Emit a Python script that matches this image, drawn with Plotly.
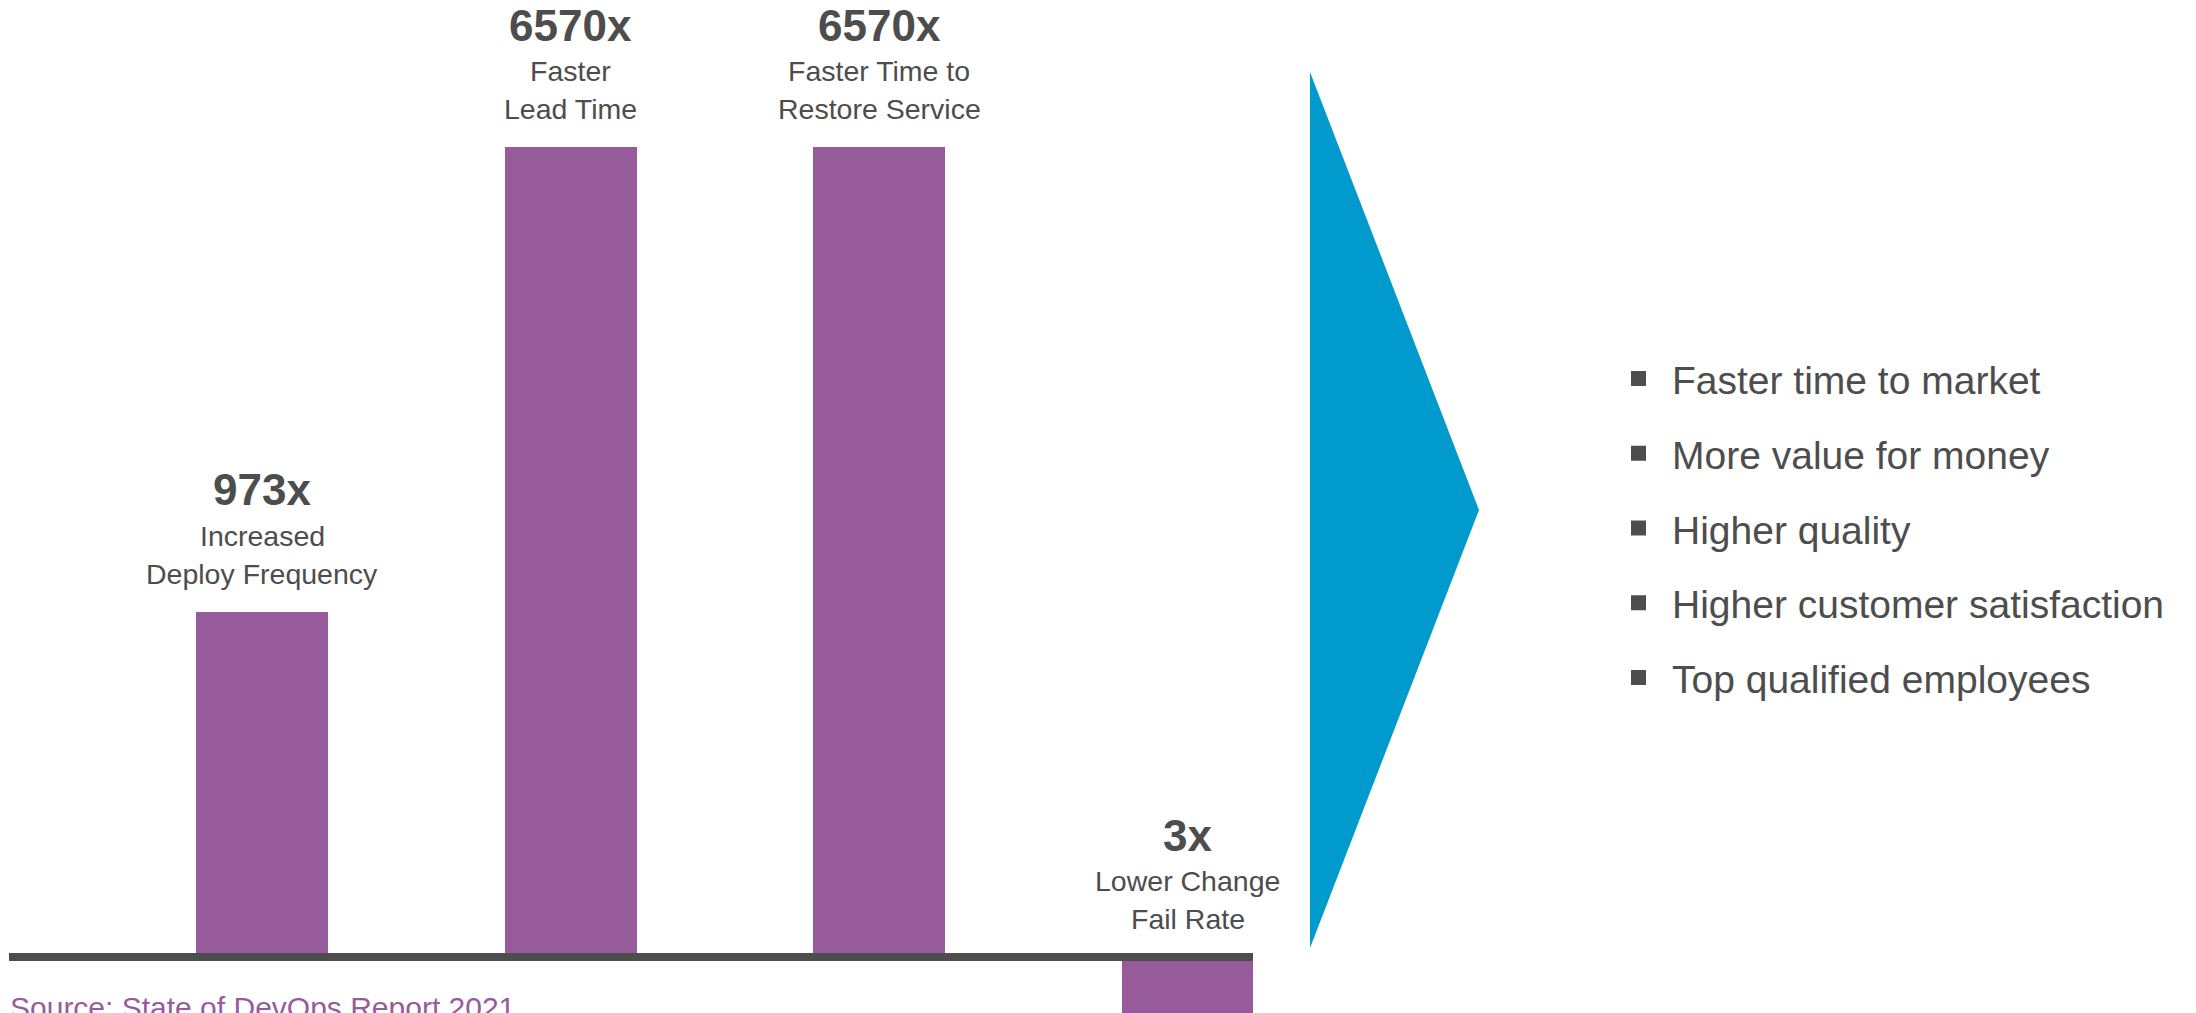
import plotly.graph_objects as go

# ---------------- data ----------------
categories = ["Deploy Frequency", "Lead Time", "Time to Restore Service", "Change Fail Rate"]
bar_heights = [42.6, 100, 100, -12]          # drawn heights (tallest bar = 100)
value_labels = ["973x", "6570x", "6570x", "3x"]
desc_line1 = ["Increased", "Faster", "Faster Time to", "Lower Change"]
desc_line2 = ["Deploy Frequency", "Lead Time", "Restore Service", "Fail Rate"]
benefits = [
    "Faster time to market",
    "More value for money",
    "Higher quality",
    "Higher customer satisfaction",
    "Top qualified employees",
]
source_text = "Source: State of DevOps Report 2021"

# ---------------- style ----------------
W, H = 2196, 1013
PURPLE = "#975B9B"
BLUE = "#009BCC"
GREY = "#4D4D4D"
FONT = "Liberation Sans, Arial, sans-serif"


def px_x(p):
    return p / W


def px_y(p):
    return 1 - p / H


fig = go.Figure()
fig.add_trace(
    go.Bar(
        x=categories,
        y=bar_heights,
        width=0.428,
        marker=dict(color=PURPLE, line=dict(width=0)),
        hoverinfo="skip",
        showlegend=False,
    )
)

annotations = []
for cat, h, val, l1, l2 in zip(categories, bar_heights, value_labels, desc_line1, desc_line2):
    base = max(h, 0)
    for txt, shift, size, bold in [(val, 122, 44, True), (l1, 76, 28.5, False), (l2, 38, 28.5, False)]:
        annotations.append(
            dict(
                x=cat, y=base, xref="x", yref="y",
                text=f"<b>{txt}</b>" if bold else txt,
                showarrow=False, xanchor="center", yanchor="middle",
                yshift=shift,
                font=dict(family=FONT, size=size, color=GREY),
            )
        )

# benefit list
first_y, step = 380.5, 74.75
shapes = []
for i, b in enumerate(benefits):
    cy = first_y + i * step
    annotations.append(
        dict(
            x=px_x(1670), y=px_y(cy), xref="paper", yref="paper",
            text=b, showarrow=False, xanchor="left", yanchor="middle",
            font=dict(family=FONT, size=39, color=GREY),
        )
    )
    shapes.append(
        dict(
            type="rect", xref="paper", yref="paper",
            x0=px_x(1631), x1=px_x(1646), y0=px_y(cy - 9.5), y1=px_y(cy + 5.5),
            fillcolor=GREY, line=dict(width=0), layer="above",
        )
    )

# source
annotations.append(
    dict(
        x=px_x(8), y=px_y(989), xref="paper", yref="paper",
        text=source_text, showarrow=False, xanchor="left", yanchor="top",
        font=dict(family=FONT, size=30, color=PURPLE),
    )
)

# baseline (zero line)
shapes.append(
    dict(
        type="line", xref="x domain", yref="y",
        x0=0, x1=1, y0=0, y1=0,
        line=dict(color=GREY, width=8), layer="above",
    )
)

# arrow / chevron
tri = (
    f"M {px_x(1310)},{px_y(72)} L {px_x(1479)},{px_y(510)} "
    f"L {px_x(1310)},{px_y(948)} Z"
)
shapes.append(
    dict(type="path", xref="paper", yref="paper", path=tri,
         fillcolor=BLUE, line=dict(width=0), layer="above")
)

fig.update_layout(
    width=W, height=H,
    margin=dict(l=0, r=0, t=0, b=0),
    paper_bgcolor="white", plot_bgcolor="white",
    xaxis=dict(
        domain=[9 / W, 1253 / W],
        range=[-0.820, 3.212],
        showgrid=False, zeroline=False, showticklabels=False, showline=False,
        fixedrange=True,
    ),
    yaxis=dict(
        domain=[0, 1],
        range=[-6.91, 118.15],
        showgrid=False, zeroline=False, showticklabels=False, showline=False,
        fixedrange=True,
    ),
    annotations=annotations,
    shapes=shapes,
    bargap=0,
)

fig.write_html("out.html", config={"displayModeBar": False})
